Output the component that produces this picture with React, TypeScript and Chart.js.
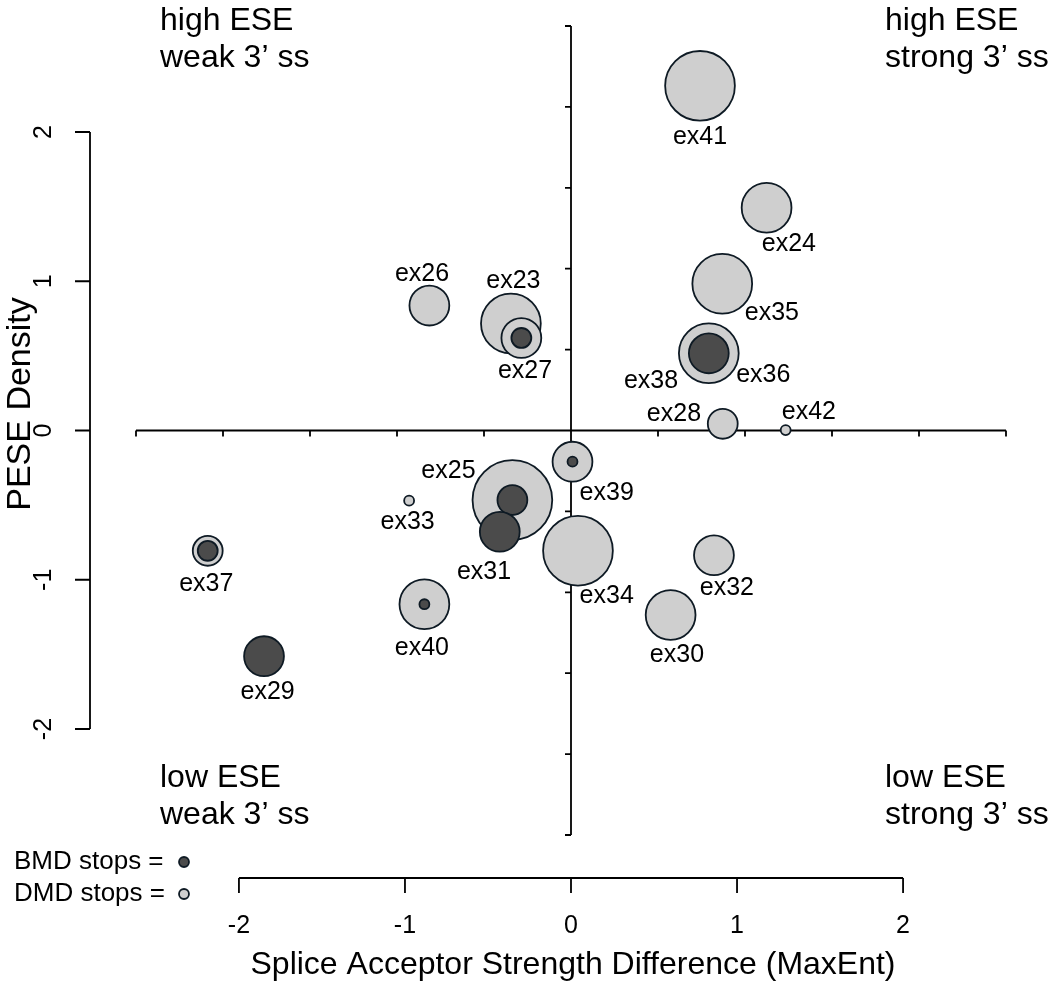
import React, { useEffect, useRef } from 'react';
import { Chart, registerables } from 'chart.js';

Chart.register(...registerables);

// ---------- data ----------
const exons = ['ex23', 'ex24', 'ex25', 'ex26', 'ex27', 'ex28', 'ex29', 'ex30', 'ex31', 'ex32',
  'ex33', 'ex34', 'ex35', 'ex36', 'ex37', 'ex38', 'ex39', 'ex40', 'ex41', 'ex42'];
const spliceDiff = [-0.362, 1.178, -0.353, -0.853, -0.299, 0.914, -1.849, 0.600, -0.429, 0.861,
  -0.975, 0.042, 0.911, 0.830, -2.188, 0.830, 0.009, -0.883, 0.777, 1.293];
const peseDensity = [0.717, 1.492, -0.466, 0.837, 0.620, 0.045, -1.512, -1.236, -0.678, -0.836,
  -0.470, -0.806, 0.983, 0.517, -0.806, 0.517, -0.209, -1.164, 2.309, 0.003];
const dmdStops = [6, 5, 8, 4, 4, 3, 0, 5, 0, 4, 1, 7, 6, 0, 3, 6, 4, 5, 7, 1];
const bmdStops = [0, 0, 3, 0, 2, 0, 4, 0, 4, 0, 0, 0, 0, 4, 2, 0, 1, 1, 0, 0];
// label anchor positions (data units)
const labelX = [-0.347, 1.312, -0.738, -0.897, -0.277, 0.620, -1.827, 0.638, -0.524, 0.939,
  -0.984, 0.215, 1.210, 1.158, -2.197, 0.482, 0.215, -0.898, 0.777, 1.433];
const labelY = [0.998, 1.249, -0.271, 1.048, 0.395, 0.111, -1.752, -1.504, -0.951, -1.055,
  -0.613, -1.112, 0.787, 0.372, -1.028, 0.332, -0.419, -1.457, 1.966, 0.124];

const xTickLabels = [-2, -1, 0, 1, 2];
const yTickLabels = [-2, -1, 0, 1, 2];
const xTitle = 'Splice Acceptor Strength Difference (MaxEnt)';
const yTitle = 'PESE Density';
const quadTopLeft = ['high ESE', 'weak 3\u2019 ss'];
const quadTopRight = ['high ESE', 'strong 3\u2019 ss'];
const quadBottomLeft = ['low ESE', 'weak 3\u2019 ss'];
const quadBottomRight = ['low ESE', 'strong 3\u2019 ss'];
const legendLabels = ['BMD stops =', 'DMD stops ='];

// ---------- style ----------
const X_MIN = -2.62, X_MAX = 2.62, Y_MIN = -2.71, Y_MAX = 2.71;
const STOP_RADIUS = 0.03; // circle radius per stop, in x-axis units
const FONT = "'Liberation Sans', Arial, Helvetica, sans-serif";
const LIGHT = '#cfcfcf';
const DARK = '#4b4b4b';
const EDGE = '#0e1a24';

function radiusPx(chart: any, n: number) {
  const sx = chart.scales.x;
  return Math.abs(sx.getPixelForValue(n * STOP_RADIUS) - sx.getPixelForValue(0));
}

const overlayPlugin = {
  id: 'overlay',
  beforeDatasetsDraw(chart: any) {
    const { ctx, chartArea } = chart;
    const sx = chart.scales.x;
    const sy = chart.scales.y;
    ctx.save();
    ctx.strokeStyle = '#000';
    ctx.lineWidth = 1.8;
    ctx.lineCap = 'butt';

    // central cross axes
    const x0 = sx.getPixelForValue(0);
    const y0 = sy.getPixelForValue(0);
    ctx.beginPath();
    ctx.moveTo(x0, sy.getPixelForValue(Y_MAX));
    ctx.lineTo(x0, sy.getPixelForValue(Y_MIN));
    for (let i = 0; i <= 10; i++) {
      const v = Y_MIN + (Y_MAX - Y_MIN) * i / 10;
      const p = sy.getPixelForValue(v);
      ctx.moveTo(x0, p);
      ctx.lineTo(x0 - 6, p);
    }
    ctx.moveTo(sx.getPixelForValue(X_MIN), y0);
    ctx.lineTo(sx.getPixelForValue(X_MAX), y0);
    for (let i = 0; i <= 10; i++) {
      const v = X_MIN + (X_MAX - X_MIN) * i / 10;
      const p = sx.getPixelForValue(v);
      ctx.moveTo(p, y0);
      ctx.lineTo(p, y0 + 6);
    }
    ctx.stroke();

    // left axis
    const axX = chartArea.left - 46;
    ctx.beginPath();
    ctx.moveTo(axX, sy.getPixelForValue(yTickLabels[0]));
    ctx.lineTo(axX, sy.getPixelForValue(yTickLabels[yTickLabels.length - 1]));
    yTickLabels.forEach((v) => {
      const p = sy.getPixelForValue(v);
      ctx.moveTo(axX, p);
      ctx.lineTo(axX - 15, p);
    });
    // bottom axis
    const axY = chartArea.bottom + 43;
    ctx.moveTo(sx.getPixelForValue(xTickLabels[0]), axY);
    ctx.lineTo(sx.getPixelForValue(xTickLabels[xTickLabels.length - 1]), axY);
    xTickLabels.forEach((v) => {
      const p = sx.getPixelForValue(v);
      ctx.moveTo(p, axY);
      ctx.lineTo(p, axY + 15);
    });
    ctx.stroke();

    ctx.fillStyle = '#000';
    ctx.textAlign = 'center';
    ctx.textBaseline = 'middle';
    ctx.font = `25px ${FONT}`;
    yTickLabels.forEach((v) => {
      ctx.save();
      ctx.translate(axX - 46, sy.getPixelForValue(v));
      ctx.rotate(-Math.PI / 2);
      ctx.fillText(String(v), 0, 0);
      ctx.restore();
    });
    xTickLabels.forEach((v) => {
      ctx.fillText(String(v), sx.getPixelForValue(v), axY + 48);
    });

    // titles
    ctx.font = `32px ${FONT}`;
    ctx.fillText(xTitle, sx.getPixelForValue(0) + 2, axY + 87);
    ctx.save();
    ctx.font = `34px ${FONT}`;
    ctx.translate(21, 404);
    ctx.rotate(-Math.PI / 2);
    ctx.fillText(yTitle, 0, 0);
    ctx.restore();

    // quadrant labels
    ctx.textAlign = 'left';
    ctx.textBaseline = 'alphabetic';
    ctx.font = `32px ${FONT}`;
    const quad = (lines: string[], x: number, y: number) => {
      lines.forEach((t, i) => ctx.fillText(t, x, y + i * 37));
    };
    quad(quadTopLeft, 160, 30);
    quad(quadTopRight, 885, 30);
    quad(quadBottomLeft, 160, 787);
    quad(quadBottomRight, 885, 787);

    // legend
    ctx.font = `26px ${FONT}`;
    ctx.textBaseline = 'middle';
    const legY = [862, 894];
    const legFill = [DARK, LIGHT];
    legendLabels.forEach((t, i) => {
      ctx.fillStyle = '#000';
      ctx.fillText(t, 14, legY[i]);
      ctx.beginPath();
      ctx.arc(184, legY[i], radiusPx(chart, 1), 0, Math.PI * 2);
      ctx.fillStyle = legFill[i];
      ctx.fill();
      ctx.lineWidth = 1.8;
      ctx.strokeStyle = EDGE;
      ctx.stroke();
    });
    ctx.restore();
  },
  afterDatasetsDraw(chart: any) {
    const { ctx } = chart;
    const sx = chart.scales.x;
    const sy = chart.scales.y;
    ctx.save();
    ctx.fillStyle = '#000';
    ctx.font = `25px ${FONT}`;
    ctx.textAlign = 'center';
    ctx.textBaseline = 'middle';
    exons.forEach((e, i) => {
      ctx.fillText(e, sx.getPixelForValue(labelX[i]), sy.getPixelForValue(labelY[i]));
    });
    ctx.restore();
  },
};

export default function App() {
  const canvasRef = useRef<HTMLCanvasElement | null>(null);

  useEffect(() => {
    if (!canvasRef.current) return;
    const build = (counts: number[]) =>
      exons
        .map((e, i) => ({ x: spliceDiff[i], y: peseDensity[i], n: counts[i], label: e }))
        .filter((p) => p.n > 0);
    const rad = (c: any) => radiusPx(c.chart, c.raw ? c.raw.n : 0);

    const chart = new Chart(canvasRef.current, {
      type: 'scatter',
      data: {
        datasets: [
          {
            label: 'DMD stops',
            data: build(dmdStops) as any,
            backgroundColor: LIGHT,
            borderColor: EDGE,
            borderWidth: 1.8,
            pointRadius: rad as any,
            pointHoverRadius: rad as any,
            order: 2,
            clip: false as any,
          },
          {
            label: 'BMD stops',
            data: build(bmdStops) as any,
            backgroundColor: DARK,
            borderColor: EDGE,
            borderWidth: 1.8,
            pointRadius: rad as any,
            pointHoverRadius: rad as any,
            order: 1,
            clip: false as any,
          },
        ],
      },
      options: {
        animation: false,
        responsive: false,
        events: [],
        layout: { padding: { left: 136, right: 44, top: 26, bottom: 157 } },
        scales: {
          x: { type: 'linear', min: X_MIN, max: X_MAX, display: false },
          y: { type: 'linear', min: Y_MIN, max: Y_MAX, display: false },
        },
        plugins: { legend: { display: false }, tooltip: { enabled: false }, title: { display: false } },
      },
      plugins: [overlayPlugin],
    });
    return () => chart.destroy();
  }, []);

  return (
    <div style={{ position: 'absolute', left: 0, top: 0, width: 1050, height: 992, background: '#fff' }}>
      <canvas ref={canvasRef} width={1050} height={992} style={{ display: 'block' }} />
    </div>
  );
}
